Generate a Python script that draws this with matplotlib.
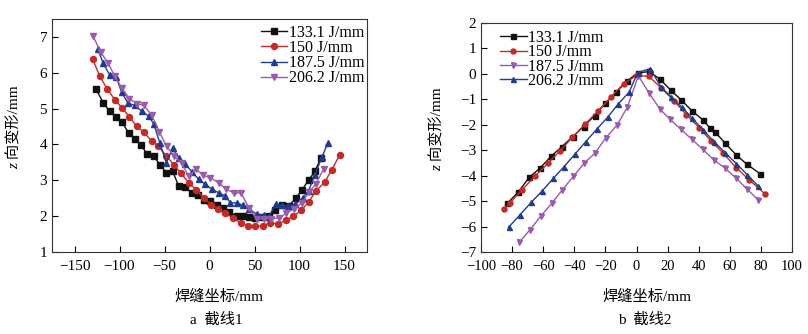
import matplotlib
matplotlib.use("Agg")
import matplotlib.pyplot as plt

plt.rcParams['font.family'] = ['Liberation Serif', 'Noto Sans CJK SC']
plt.rcParams['font.size'] = 11
plt.rcParams['axes.unicode_minus'] = True

labels = ["133.1 J/mm", "150 J/mm", "187.5 J/mm", "206.2 J/mm"]

# ---- section line 1 (left panel)
a_x133 = [-126, -118, -111, -104, -97, -90, -83, -76, -69, -62, -55, -48, -41, -34, -27, -20, -13, -6,
          1, 8, 15, 22, 30, 37, 44, 51, 58, 66, 73, 81, 88, 96, 103, 110, 117, 124]
a_y133 = [5.54, 5.16, 4.93, 4.77, 4.62, 4.32, 4.14, 3.98, 3.72, 3.67, 3.44, 3.21, 3.25, 2.83, 2.81, 2.65,
          2.58, 2.45, 2.42, 2.32, 2.22, 2.12, 2.00, 2.01, 1.97, 1.95, 1.97, 2.00, 2.17, 2.30, 2.29, 2.50,
          2.74, 3.00, 3.25, 3.63]
a_x150 = [-130, -122, -114, -105, -97, -89, -81, -73, -64, -57, -48, -40, -32, -23, -15, -6.5, 1.7, 9.5,
          17.7, 26, 34.5, 42.7, 51, 59, 67, 76, 85, 93, 102, 110, 118, 128, 136, 144.5]
a_y150 = [6.39, 5.91, 5.56, 5.24, 5.02, 4.77, 4.51, 4.34, 4.09, 3.95, 3.69, 3.44, 3.21, 2.93, 2.74, 2.51,
          2.32, 2.21, 2.09, 1.95, 1.81, 1.73, 1.72, 1.73, 1.81, 1.79, 1.88, 2.00, 2.16, 2.39, 2.69, 2.95,
          3.30, 3.70]
a_x187 = [-124, -118, -111, -103.5, -97.5, -90.4, -83, -75.5, -67.5, -62, -55, -48, -41, -33.5, -27,
          -19.5, -12, -4.7, 2.8, 10.3, 17.7, 23.3, 30.8, 37.5, 43.5, 53, 60, 66, 73.6, 80.5, 87.5, 95.5,
          103.5, 110, 117, 125, 131.5]
a_y187 = [6.65, 6.26, 5.94, 5.87, 5.45, 5.15, 5.09, 4.93, 4.79, 4.57, 4.03, 3.49, 3.89, 3.61, 3.46, 3.24,
          3.03, 2.89, 2.75, 2.65, 2.56, 2.37, 2.37, 2.30, 2.20, 2.05, 2.02, 1.99, 2.35, 2.30, 2.29, 2.33,
          2.51, 2.70, 3.15, 3.65, 4.04]
a_x206 = [-129.5, -121, -113, -105.3, -97.5, -89, -81, -73, -64.3, -55.8, -47.6, -40, -31, -23.3, -15, -7,
          1, 10.3, 18.7, 27, 35, 43.8, 52.4, 60.6, 68.8, 77.4, 85.5, 94, 102.4, 110.9, 118.3, 127]
a_y206 = [7.03, 6.58, 6.28, 5.91, 5.58, 5.28, 5.14, 5.09, 4.82, 4.35, 3.95, 3.69, 3.49, 3.11, 3.31, 3.14,
          3.07, 2.93, 2.75, 2.65, 2.65, 2.23, 1.92, 1.92, 1.93, 1.95, 2.09, 2.20, 2.37, 2.67, 2.91, 3.32]

# ---- section line 2 (right panel)
b_x133 = [-83, -76, -69, -62, -55, -48, -41, -34, -27, -20, -13, -6, 0.7, 8, 15, 22, 28.7, 35.8, 43,
          47.2, 50.4, 57, 64, 71, 79.3]
b_y133 = [-5.08, -4.64, -4.07, -3.70, -3.24, -2.86, -2.47, -2.07, -1.64, -1.15, -0.71, -0.28, 0.04, 0.09,
          -0.20, -0.64, -1.02, -1.46, -1.82, -2.13, -2.28, -2.72, -3.18, -3.55, -3.92]
b_x150 = [-85, -81.2, -73.5, -65.4, -57.1, -49.1, -41.2, -33.1, -24.6, -16.5, -8.2, 0.3, 8, 16, 24, 32,
          40.5, 48, 55.5, 64, 72.5, 82.5]
b_y150 = [-5.31, -5.06, -4.55, -4.03, -3.52, -3.02, -2.49, -1.98, -1.45, -0.92, -0.38, -0.06, -0.10,
          -0.56, -1.05, -1.60, -2.13, -2.64, -3.10, -3.68, -4.17, -4.71]
b_x187 = [-75.4, -68.4, -61.3, -54.4, -47.6, -40.6, -33.7, -26.6, -19.6, -12.3, -5.9, 1.2, 8.2, 15.1,
          21.5, 28.4, 35.4, 42.5, 49.7, 56.8, 63.9, 71.1, 78.2]
b_y187 = [-6.62, -6.12, -5.57, -5.08, -4.55, -4.03, -3.51, -3.11, -2.50, -2.00, -1.31, -0.08, -0.76,
          -1.39, -1.78, -2.17, -2.56, -2.96, -3.38, -3.70, -4.09, -4.53, -4.95]
b_x206 = [-82.3, -74.8, -67.7, -60.5, -53.4, -46.5, -39.5, -32.6, -25.5, -18.5, -11.7, -4.8, 0.8, 8.7,
          15.8, 22.2, 29.2, 35.8, 42.9, 49.7, 57.2, 64.3, 71.1, 78.4]
b_y206 = [-6.03, -5.53, -5.05, -4.59, -4.10, -3.64, -3.15, -2.66, -2.17, -1.70, -1.18, -0.72, 0.05, 0.21,
          -0.51, -0.90, -1.31, -1.74, -2.20, -2.66, -3.11, -3.53, -3.96, -4.42]

BLACK = "#111111"
RED = "#c42a26"
BLUE = "#213c8f"
PURPLE = "#9a5aad"


def styleAxes(ax, xsize=11):
    ax.tick_params(direction="in", length=4, width=0.8, top=False, right=False, labelsize=11)
    ax.tick_params(axis="x", labelsize=xsize, pad=6)
    for s in ax.spines.values():
        s.set_linewidth(0.8)
        s.set_color("#333333")


def yLabel(ax, xpos):
    lbl = ax.text(xpos, 0.55, " 向变形/mm", rotation=90, transform=ax.transAxes,
                  ha="center", va="center", fontsize=11)
    ax.annotate("z", xy=(0.5, 0), xycoords=lbl, ha="center", va="top", rotation=90,
                fontsize=11, style="italic", family="Liberation Serif")


fig = plt.figure(figsize=(8.08, 3.34), dpi=100)
ax1 = fig.add_axes([52 / 808, 1 - 252 / 334, 315 / 808, 233 / 334])
ax2 = fig.add_axes([481 / 808, 1 - 252 / 334, 311 / 808, 229 / 334])

kw = dict(linewidth=1.0, markersize=4.3)
ax1.plot(a_x133, a_y133, "-s", color=BLACK, label=labels[0], **kw)
ax1.plot(a_x150, a_y150, "-o", color=RED, label=labels[1], **kw)
ax1.plot(a_x187, a_y187, "-^", color=BLUE, label=labels[2], **kw)
ax1.plot(a_x206, a_y206, "-v", color=PURPLE, label=labels[3], **kw)
ax1.set_xlim(-175, 175)
ax1.set_ylim(1, 7.5)
ax1.set_xticks(range(-150, 151, 50))
ax1.set_yticks(range(1, 8))
styleAxes(ax1)
ax1.legend(loc="upper left", bbox_to_anchor=(0.665, 0.975), frameon=False, fontsize=11.5,
           handlelength=1.6, handletextpad=0.1, labelspacing=-0.05, borderpad=0, borderaxespad=0)
ax1.set_xlabel("焊缝坐标/mm", fontsize=11)
ax1.xaxis.set_label_coords(0.53, -0.16)
yLabel(ax1, -0.118)
fig.text(216 / 808, 1 - 320 / 334, "a  截线1", ha="center", va="center", fontsize=11)

kw2 = dict(linewidth=1.0, markersize=3.6)
ax2.plot(b_x133, b_y133, "-s", color=BLACK, label=labels[0], **kw2)
ax2.plot(b_x150, b_y150, "-o", color=RED, label=labels[1], **kw2)
ax2.plot(b_x187, b_y187, "-v", color=PURPLE, label=labels[2], **kw2)
ax2.plot(b_x206, b_y206, "-^", color=BLUE, label=labels[3], **kw2)
ax2.set_xlim(-100, 100)
ax2.set_ylim(-7, 2)
ax2.set_xticks(range(-100, 101, 20))
ax2.set_yticks(range(-7, 3))
styleAxes(ax2, xsize=10.5)
ax2.legend(loc="upper left", bbox_to_anchor=(0.06, 0.97), frameon=False, fontsize=11.5,
           handlelength=1.7, handletextpad=0.1, labelspacing=-0.1, borderpad=0, borderaxespad=0)
ax2.set_xlabel("焊缝坐标/mm", fontsize=11)
ax2.xaxis.set_label_coords(0.535, -0.165)
yLabel(ax2, -0.14)
fig.text(645 / 808, 1 - 320 / 334, "b  截线2", ha="center", va="center", fontsize=11)

plt.savefig("out.png", dpi=100)
